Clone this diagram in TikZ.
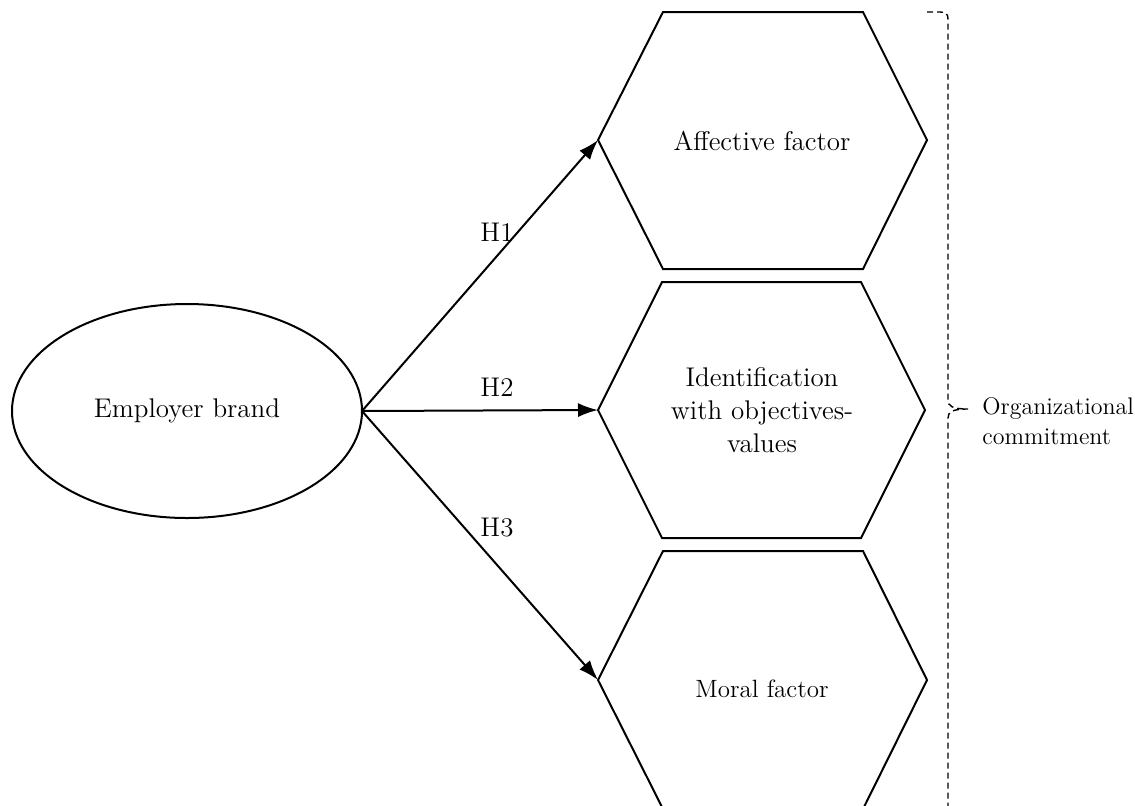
\documentclass[tikz,border=0pt]{standalone}
\usepackage{tikz}
\usetikzlibrary{shapes.geometric,arrows.meta,positioning}

\tikzset{
  shapeline/.style={line width=1pt},
  hyparrow/.style={line width=1pt,-{Latex[length=10pt,width=7pt]}},
  hyplabel/.style={inner sep=0.75pt,font=\fontsize{13.5}{16}\selectfont},
  boxtext/.style={inner sep=0.75pt,align=center,font=\fontsize{13.5}{16.5}\selectfont},
}

\begin{document}
\begin{tikzpicture}[x=0.5pt,y=0.5pt,yscale=-1,xscale=1]
        \useasboundingbox (0,0) rectangle (1135,805);

        % construct on the left
        \node [draw,shapeline,ellipse,minimum width=175pt,minimum height=107pt,inner sep=0pt,outer sep=0pt,font=\fontsize{13.5}{16}\selectfont] (brand) at (187,411) {Employer brand};

        % the three hexagons
        \draw [shapeline] (598,140) -- (663,12) -- (863,12) -- (927,140) -- (863,269) -- (663,269) -- cycle ;
        \draw [shapeline] (598,410) -- (662,282) -- (861,282) -- (925,410) -- (861,538) -- (662,538) -- cycle ;
        \draw [shapeline] (598,680) -- (663,551) -- (863,551) -- (927,680) -- (863,809) -- (663,809) -- cycle ;
        \coordinate (affective-w) at (598,140);
        \coordinate (identif-w) at (598,410);
        \coordinate (moral-w) at (598,680);

        \node [boxtext] (affective) at (762,141) {Affective factor};
        \node [boxtext] (identif) at (762,410) {Identification\\with objectives-\\values};
        \node [boxtext,font=\fontsize{12.5}{15}\selectfont] (moral) at (762,689) {Moral factor};

        % hypotheses
        \draw [hyparrow] (brand.east) -- (affective-w) ;
        \draw [hyparrow] (brand.east) -- (identif-w) ;
        \draw [hyparrow] (brand.east) -- (moral-w) ;
        \node [hyplabel] (h1) at (497,232) {H1};
        \node [hyplabel] (h2) at (497,387) {H2};
        \node [hyplabel] (h3) at (497,528) {H3};

        % dashed brace
        \coordinate (tip) at (968,409);
        \draw [line width=0.7pt,dash pattern=on 3pt off 2pt] (927,12) -- (940,12) .. controls (946,12) and (948,14) .. (948,19) -- (948,400) .. controls (948,406) and (952,409) .. (tip) .. controls (952,409) and (948,412) .. (948,418) -- (948,810) ;
        \node [anchor=north west,inner sep=0pt,align=left,font=\fontsize{12}{15}\selectfont] (commit) at (982,397) {Organizational\\commitment};
\end{tikzpicture}
\end{document}
